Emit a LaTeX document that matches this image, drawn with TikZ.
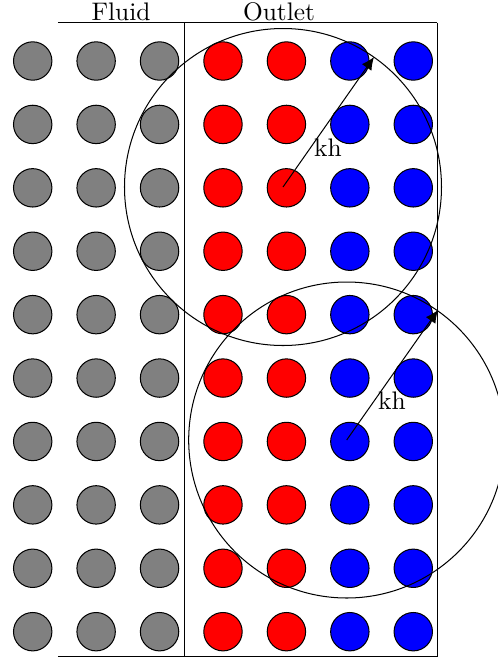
\documentclass[tikz,border=0pt]{standalone}
\usetikzlibrary{arrows.meta}
\begin{document}
\begin{tikzpicture}[x=0.3937pt,y=-0.3937pt,
  particle/.style={circle,draw=black,minimum size=38.4*0.3937pt,inner sep=0pt},
  fluidp/.style={particle,fill=gray},
  redp/.style={particle,fill=red},
  bluep/.style={particle,fill=blue},
  border/.style={draw=black},
  radius line/.style={-{Latex[length=5pt,width=4.6pt]},black},
  lbl/.style={anchor=base,inner sep=0pt}]
\useasboundingbox (0,0) rectangle (498,660);
\clip (0,0) rectangle (498,660);
% frame lines
\coordinate (tl) at (58,22.5);
\coordinate (tm) at (184.5,22.5);
\coordinate (tr) at (437.5,22.5);
\coordinate (bl) at (58,656.5);
\coordinate (bm) at (184.5,656.5);
\coordinate (br) at (437.5,656.5);
\draw[border] (tl) -- (tr);
\draw[border] (bl) -- (br);
\draw[border] (tm) -- (bm);
\draw[border] (tr) -- (br);
\node[lbl] (fluid) at (121,20.7) {Fluid};
\node[lbl] (outlet) at (279,20.7) {Outlet};
% particles
\foreach \r in {0,...,9}{
  \foreach \c/\st in {0/fluidp,1/fluidp,2/fluidp,3/redp,4/redp,5/bluep,6/bluep}{
    \node[\st] (p-\r-\c) at ({32.7+63.43*\c},{61+63.41*\r}) {};
  }
}
% support circles
\coordinate (o1) at (283,187);
\coordinate (t1) at (374,57);
\coordinate (o2) at (346.7,440);
\coordinate (t2) at (438,310);
\draw (o1) circle[radius=158.5];
\draw (o2) circle[radius=158];
\draw[radius line] (o1) -- (t1);
\draw[radius line] (o2) -- (t2);
\node[lbl] (kh1) at (328,156) {kh};
\node[lbl] (kh2) at (392,409) {kh};
\end{tikzpicture}
\end{document}
